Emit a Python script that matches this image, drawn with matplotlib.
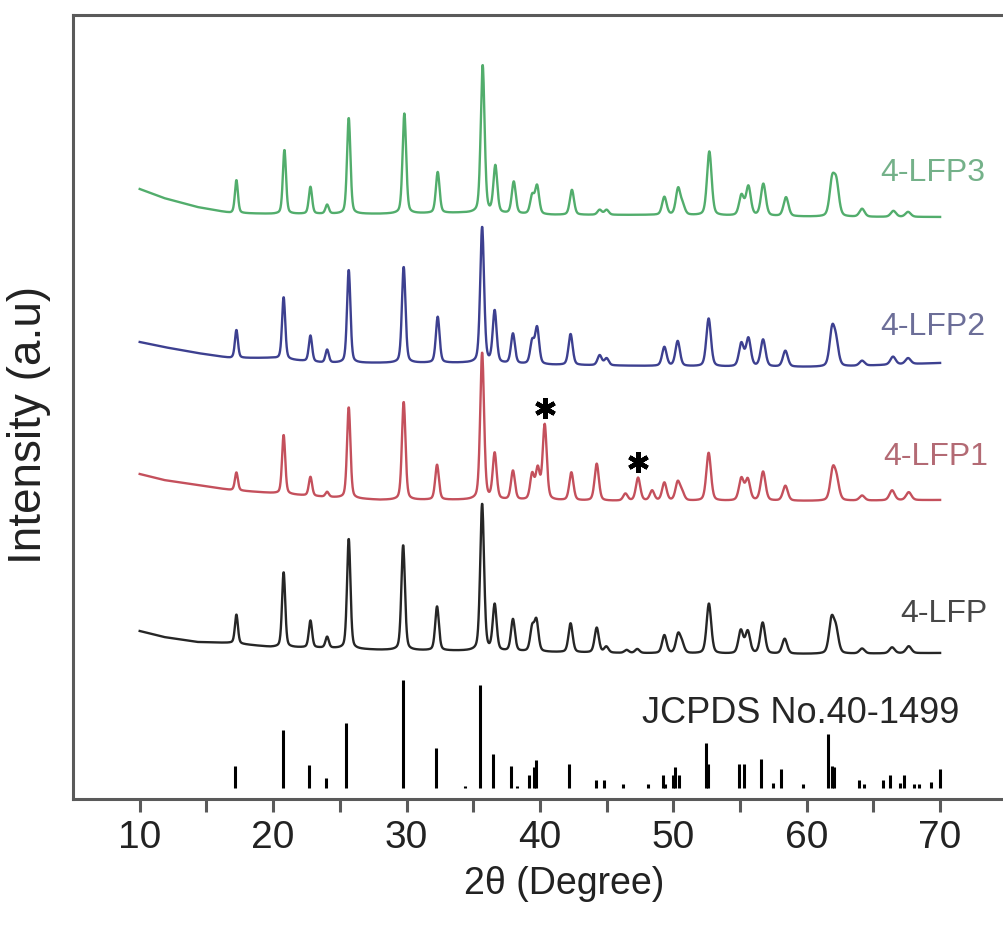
import numpy as np
import matplotlib
matplotlib.use("Agg")
import matplotlib.pyplot as plt

plt.rcParams["font.family"] = ["Liberation Sans", "DejaVu Sans"]

# ---- data (intensity in plot units, baseline anchors + peak tops) ----
LFP_BASE = [(10, 168), (11.8, 162), (14.3, 157), (16.8, 156), (19.8, 152), (23.8, 151),
            (28, 149), (34.3, 148), (45, 146), (55, 145), (62, 145), (70, 146)]
LFP_PEAKS = [(17.25, 29), (20.79, 75), (22.8, 27), (24.05, 11), (25.67, 110), (29.75, 105),
             (32.29, 44), (35.67, 147), (36.61, 46), (37.98, 32), (39.42, 23), (39.74, 30),
             (42.3, 29), (44.26, 25), (44.98, 6), (46.5, 3), (47.3, 4), (49.33, 18), (50.36, 18),
             (50.65, 9), (52.67, 50), (55.06, 23), (55.58, 22), (56.7, 31), (58.35, 15),
             (61.86, 33), (62.2, 22), (64.15, 5), (66.4, 6), (67.65, 7)]

LFP1_BASE = [(10, 325), (11.8, 319), (14.3, 314), (16.8, 309), (19.8, 306), (23.8, 302),
             (28, 299), (34.3, 299), (45, 298), (55, 298), (62, 298), (70, 299)]
LFP1_PEAKS = [(17.25, 18), (20.79, 59), (22.8, 19), (24.05, 5), (25.67, 91), (29.79, 98),
              (32.29, 35), (35.67, 147), (36.61, 46), (37.98, 29), (39.42, 25), (39.84, 30),
              (40.36, 75), (42.36, 28), (44.26, 37), (46.41, 7), (47.36, 23), (48.41, 10),
              (49.33, 18), (50.33, 18), (50.65, 8), (52.65, 48), (55.1, 22), (55.58, 21),
              (56.73, 29), (58.4, 15), (61.95, 29), (62.25, 18), (64.15, 5), (66.4, 10), (67.65, 8)]

LFP2_BASE = [(10, 457), (11.8, 452), (14.3, 446), (16.8, 441), (19.8, 441), (23.8, 436),
             (28, 436), (34.3, 436), (41, 434), (48, 433), (55, 432), (62, 432), (66, 434), (70, 436)]
LFP2_PEAKS = [(17.25, 28), (20.79, 62), (22.8, 26), (24.05, 13), (25.67, 93), (29.79, 96),
              (32.34, 46), (35.67, 136), (36.61, 52), (37.98, 30), (39.42, 22), (39.79, 36),
              (42.3, 31), (44.48, 10), (45.0, 7), (49.33, 19), (50.33, 25), (52.65, 48),
              (55.1, 23), (55.63, 28), (56.73, 27), (58.4, 16), (61.9, 35), (62.2, 22),
              (64.15, 5), (66.47, 8), (67.6, 6)]

LFP3_BASE = [(10, 610), (11.8, 601), (14.3, 592), (16.8, 586), (20, 585), (28, 585),
             (34, 586), (41, 584), (48, 584), (55, 583), (62, 582), (70, 582)]
LFP3_PEAKS = [(17.25, 33), (20.85, 64), (22.8, 27), (24.05, 9), (25.67, 96), (29.84, 100),
              (32.34, 41), (35.71, 148), (36.66, 47), (38.04, 32), (39.42, 18), (39.79, 28),
              (42.4, 25), (44.48, 5), (45.0, 5), (49.33, 18), (50.36, 26), (50.7, 9),
              (52.7, 64), (55.11, 20), (55.63, 29), (56.75, 32), (58.45, 19), (61.9, 34),
              (62.23, 31), (64.15, 8), (66.5, 6), (67.6, 5)]

# JCPDS 40-1499 reference lines: 2theta, relative intensity (%)
REF_POS = [17.17, 20.77, 22.67, 24.0, 25.5, 29.72, 32.18, 34.37, 35.54, 36.49, 37.81, 38.29,
           39.21, 39.58, 39.74, 42.16, 44.24, 44.79, 46.24, 48.09, 49.23, 49.4, 49.98, 50.16,
           50.41, 52.46, 52.61, 54.9, 55.28, 56.58, 57.45, 58.08, 59.7, 61.6, 61.9, 62.03,
           63.9, 64.28, 65.73, 66.28, 66.97, 67.27, 68.07, 68.39, 69.32, 70.0]
REF_INT = [20, 53, 21, 9, 60, 100, 37, 2, 95, 31, 20, 2,
           12, 19, 26, 22, 7, 7, 3, 3, 12, 3, 12, 19,
           12, 41, 22, 22, 22, 27, 4, 17, 3, 50, 20, 19,
           7, 3, 7, 12, 4, 12, 3, 3, 5, 17]

IMPURITY_POS = [40.36, 47.36]   # peaks marked with * on 4-LFP1

SAMPLES = ["4-LFP", "4-LFP1", "4-LFP2", "4-LFP3"]
BASES = [LFP_BASE, LFP1_BASE, LFP2_BASE, LFP3_BASE]
PEAKS = [LFP_PEAKS, LFP1_PEAKS, LFP2_PEAKS, LFP3_PEAKS]
LINE_COLOR = ["#262626", "#c4505c", "#3d4090", "#52ad6c"]
TEXT_COLOR = ["#474747", "#b36a74", "#6c6e98", "#74b189"]
LABEL_XY = [(67.0, 185), (65.75, 342), (65.55, 472), (65.55, 626)]


def pattern(x, base, peaks):
    bx, by = zip(*base)
    y = np.interp(x, bx, by).astype(float)
    for c, h in peaks:
        w = 0.24 + 0.004 * (c - 10)
        u = (x - c) / w
        y += h * (0.65 * np.exp(-4 * np.log(2) * u ** 2) + 0.35 / (1 + 4 * u ** 2))
    return y


fig = plt.figure(figsize=(10.04, 9.3), dpi=100)
ax = fig.add_axes([73 / 1004, 1 - 799 / 930, 931 / 1004, 784 / 930])
x = np.arange(10, 70.001, 0.02)

curves = {}
for name, base, peaks, lc, tc, (lx, ly) in zip(SAMPLES, BASES, PEAKS, LINE_COLOR, TEXT_COLOR, LABEL_XY):
    y = pattern(x, base, peaks)
    curves[name] = y
    ax.plot(x, y, color=lc, lw=1.7)
    ax.text(lx, ly, name, color=tc, fontsize=23, ha="left", va="center")

# impurity stars
yr = curves["4-LFP1"]
for p in IMPURITY_POS:
    ax.plot(p, np.interp(p, x, yr) + 16, marker=(6, 2, 0), ms=15, mew=3.2, color="black")

# reference sticks
ref_base = 11.3
ax.vlines(REF_POS, ref_base, ref_base + 1.08 * np.array(REF_INT), color="black", lw=2.2)
ax.text(47.66, 86, "JCPDS No.40-1499", fontsize=26, color="#262626", ha="left", va="center")

ax.set_xlim(5, 5 + 931 / 13.34)
ax.set_ylim(0, 784)
ax.set_yticks([])
ax.set_xticks(np.arange(10, 71, 10))
ax.set_xticks(np.arange(15, 70, 10), minor=True)
ax.tick_params(axis="x", which="both", direction="out", length=9, width=2.2, color="#5a5a5a",
               labelsize=28, labelcolor="#222222", pad=6)
for s in ["left", "top", "bottom"]:
    ax.spines[s].set_color("#5a5a5a"); ax.spines[s].set_linewidth(2.2)
ax.spines["right"].set_visible(False)

ax.set_xlabel("2θ (Degree)", fontsize=27, color="#222222")
ax.xaxis.set_label_coords(0.528, -0.085)
ax.set_ylabel("Intensity (a.u)", fontsize=33, color="#222222")
ax.yaxis.set_label_coords(-0.024, 0.477)

fig.savefig("out.png", dpi=100)
